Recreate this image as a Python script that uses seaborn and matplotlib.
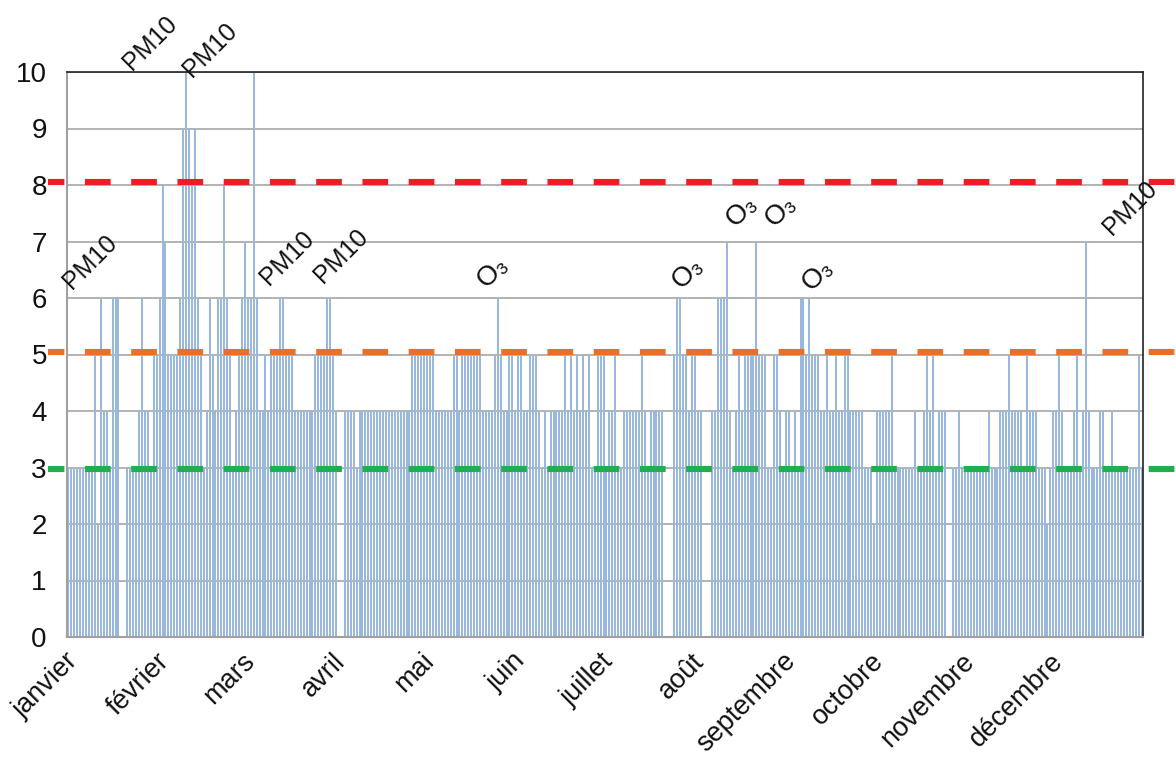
import numpy as np
import pandas as pd
import matplotlib
matplotlib.use("Agg")
import matplotlib.pyplot as plt
import matplotlib.transforms as mtransforms
import seaborn as sns

# ---- data ----
mois = ["janvier", "février", "mars", "avril", "mai", "juin", "juillet",
        "août", "septembre", "octobre", "novembre", "décembre"]

janvier = [3, 3, 3, 3, 3, 3, 3, 3, 3, 5, 2, 6, 4, 4, 3, 6, 6, 6, 0, 0,
           3, 3, 3, 3, 4, 6, 4, 4, 3, 5, 5]
fevrier = [6, 8, 7, 5, 5, 5, 5, 6, 9, 10, 9, 8, 9, 6, 5, 3, 4, 6, 5, 4,
           6, 6, 8, 6, 5, 3, 4, 5, 6]
mars = [7, 6, 6, 10, 6, 4, 4, 5, 4, 5, 5, 5, 6, 6, 5, 5, 5, 4, 4, 4,
        4, 4, 4, 4, 5, 5, 5, 5, 6, 6, 5]
avril = [4, 0, 0, 4, 4, 4, 4, 3, 4, 4, 4, 4, 4, 4, 4, 4, 4, 4, 4, 4,
         4, 4, 4, 4, 4, 4, 5, 5, 5, 5]
mai = [5, 5, 5, 5, 4, 4, 4, 4, 4, 4, 5, 5, 4, 5, 5, 5, 5, 5, 5, 5,
       4, 4, 4, 4, 5, 6, 5, 4, 4, 5, 5]
juin = [4, 5, 5, 4, 4, 5, 5, 5, 4, 3, 4, 3, 4, 4, 4, 4, 4, 5, 4, 5,
        4, 5, 4, 5, 4, 5, 3, 3, 5, 5]
juillet = [5, 3, 4, 4, 5, 3, 3, 4, 4, 4, 4, 4, 4, 5, 4, 3, 4, 4, 4, 4,
           4, 0, 0, 0, 5, 6, 6, 5, 5, 4, 5]
aout = [5, 4, 4, 0, 0, 0, 4, 4, 6, 6, 6, 7, 4, 3, 4, 5, 4, 5, 5, 5,
        5, 7, 5, 5, 5, 3, 3, 5, 5, 4, 3]
septembre = [4, 4, 3, 4, 3, 6, 6, 5, 6, 5, 5, 5, 4, 4, 5, 4, 4, 5, 4, 4,
             5, 5, 4, 4, 4, 4, 4, 3, 3, 3]
octobre = [2, 4, 4, 4, 4, 4, 5, 3, 3, 3, 3, 3, 3, 3, 4, 3, 3, 4, 5, 4,
           5, 3, 4, 4, 4, 0, 0, 3, 3, 4, 3]
novembre = [3, 3, 3, 3, 3, 3, 3, 3, 4, 3, 3, 3, 4, 4, 4, 5, 4, 4, 4, 4,
            3, 5, 4, 4, 4, 3, 3, 3, 2, 3]
decembre = [4, 4, 5, 4, 3, 3, 3, 4, 5, 3, 4, 7, 4, 3, 3, 3, 4, 4, 3, 3,
            4, 3, 3, 3, 3, 3, 3, 3, 3, 5, 3]

series_mois = [janvier, fevrier, mars, avril, mai, juin, juillet, aout,
               septembre, octobre, novembre, decembre]

seuils = [8.05, 5.05, 2.97]
couleurs_seuils = ["#ee1c25", "#e9702a", "#1eb04c"]

etiquettes = ["PM10", "PM10", "PM10", "PM10", "PM10", "O₃", "O₃", "O₃", "O₃", "O₃", "PM10"]
etiq_jour = [7.8, 28.2, 48.6, 74.8, 93.2, 144.9, 211.2, 229.6, 242.9, 255.4, 361.6]
etiq_val = [6.64, 10.51, 10.39, 6.71, 6.74, 6.46, 6.44, 7.54, 7.54, 6.41, 7.59]

# ---- build frame ----
valeurs = [v for m in series_mois for v in m]
longueurs = [len(m) for m in series_mois]
debuts = np.concatenate([[0], np.cumsum(longueurs)[:-1]])
n_jours = len(valeurs)
df = pd.DataFrame({"jour": np.arange(n_jours) + 0.5, "valeur": valeurs})

# ---- style ----
sns.set_style("white")
plt.rcParams["font.family"] = ["Liberation Sans", "DejaVu Sans"]
plt.rcParams["lines.scale_dashes"] = False

W, H = 1176, 760
fig = plt.figure(figsize=(W / 100, H / 100), dpi=100)
L, R, T, B = 67, 1143, 72, 637
ax = fig.add_axes([L / W, 1 - B / H, (R - L) / W, (B - T) / H])

sns.barplot(data=df, x="jour", y="valeur", native_scale=True,
            color="#9ab7dc", saturation=1, width=0.68, errorbar=None,
            linewidth=0, ax=ax, zorder=2)

ax.set_xlim(0, n_jours)
ax.set_ylim(0, 10)
ax.set_yticks(range(0, 11))
ax.set_xticks(debuts)
ax.set_xticklabels(mois, rotation=45, ha="right", rotation_mode="anchor")
ax.set_xlabel("")
ax.set_ylabel("")

ax.yaxis.grid(True, color="#a6a6a6", lw=1.2, zorder=0)
ax.xaxis.grid(False)
ax.set_axisbelow(True)

for side in ["left", "bottom"]:
    ax.spines[side].set_color("#a0a0a0")
    ax.spines[side].set_linewidth(1.5)
for side in ["top", "right"]:
    ax.spines[side].set_color("#222222")
    ax.spines[side].set_linewidth(1.2)

ax.tick_params(axis="both", direction="out", length=5.5, width=1.1,
               color="#a0a0a0", labelcolor="#111111")
ax.tick_params(axis="y", pad=9, labelsize=20)
ax.tick_params(axis="x", pad=2.5, labelsize=19.5)
off = mtransforms.ScaledTranslation(-0.02, 0, fig.dpi_scale_trans)
for lab in ax.get_xticklabels():
    lab.set_transform(lab.get_transform() + off)

# threshold dashed lines (extend a bit past the plot area, as in the reference)
px_per_day = (R - L) / n_jours
x_start = (48 - L) / px_per_day
x_end = (W + 5 - L) / px_per_day
for s, c in zip(seuils, couleurs_seuils):
    ax.plot([x_start, x_end], [s, s], color=c, lw=4.4,
            linestyle=(6.7, (18.5, 14.8)), solid_capstyle="butt",
            clip_on=False, zorder=4)

for txt, xj, yv in zip(etiquettes, etiq_jour, etiq_val):
    ax.text(xj, yv, txt, rotation=45, ha="center", va="center",
            fontsize=18 if txt == "PM10" else 20, color="#111111",
            clip_on=False, zorder=5)

fig.savefig("out.png", dpi=100)
